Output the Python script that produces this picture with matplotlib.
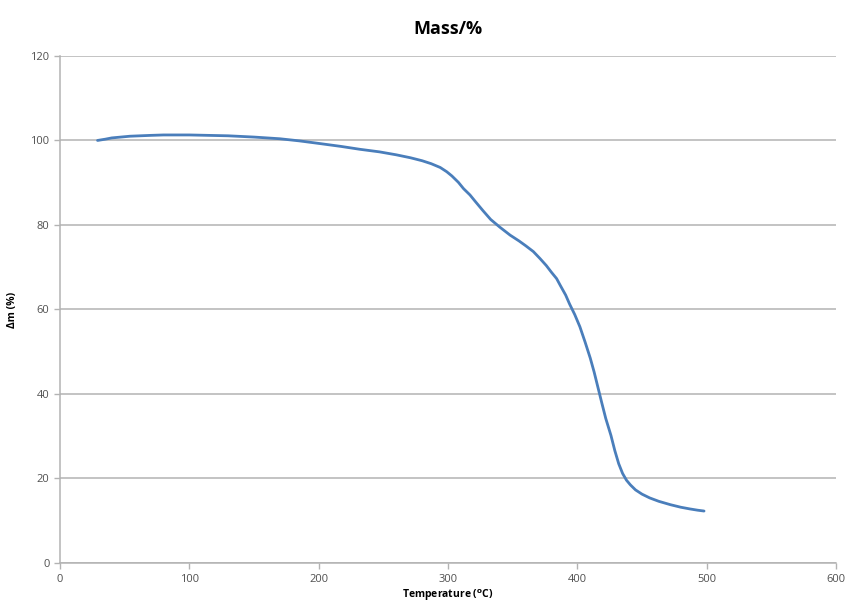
import matplotlib
matplotlib.use('Agg')
import matplotlib.pyplot as plt
import numpy as np

# TGA curve
temp = [29, 35, 40, 47, 54, 62, 70, 80, 90, 100, 115, 130, 150, 170, 185,
        200, 217, 232, 247, 260, 271, 280, 287, 294, 299, 303, 308, 312,
        317, 321, 327, 333, 340, 348, 355, 360, 366, 371, 376, 380, 384,
        387, 391, 394, 398, 402, 406, 410, 413, 416, 419, 422, 426, 429,
        432, 435, 438, 441, 445, 450, 456, 463, 472, 480, 487, 493, 498]
mass = [100.0, 100.3, 100.6, 100.8, 101.0, 101.1, 101.2, 101.3, 101.3,
        101.3, 101.2, 101.1, 100.8, 100.4, 99.9, 99.3, 98.6, 97.9, 97.3,
        96.6, 95.9, 95.2, 94.5, 93.6, 92.6, 91.6, 90.1, 88.6, 87.1, 85.6,
        83.4, 81.3, 79.5, 77.6, 76.2, 75.1, 73.7, 72.1, 70.4, 68.8, 67.3,
        65.6, 63.4, 61.3, 58.8, 55.9, 52.3, 48.5, 45.2, 41.5, 37.8, 34.2,
        30.2, 26.6, 23.5, 21.2, 19.6, 18.5, 17.3, 16.3, 15.4, 14.6, 13.8,
        13.2, 12.8, 12.5, 12.3]

xticks = [0, 100, 200, 300, 400, 500, 600]
yticks = [0, 20, 40, 60, 80, 100, 120]

plt.rcParams['font.family'] = ['Open Sans', 'DejaVu Sans']

fig = plt.figure(figsize=(8.48, 6.08), dpi=100)
ax = fig.add_axes([0.0708, 0.074, 0.915, 0.834])

ax.plot(temp, mass, color='#4a7ebb', linewidth=2.0, solid_capstyle='round',
        solid_joinstyle='round')

ax.set_xlim(0, 600)
ax.set_ylim(0, 120)
ax.set_xticks(xticks)
ax.set_yticks(yticks)
ax.grid(axis='y', color='#b3b3b3', linewidth=1.1)
ax.set_axisbelow(True)

for s in ['top', 'right']:
    ax.spines[s].set_visible(False)
for s in ['left', 'bottom']:
    ax.spines[s].set_color('#b3b3b3')
    ax.spines[s].set_linewidth(1.1)

ax.tick_params(axis='both', colors='#b3b3b3', labelcolor='#505050',
               labelsize=8, length=4, width=1)
ax.tick_params(axis='x', pad=4)

ax.set_title('Mass/%', fontsize=13, fontweight='bold', pad=16)
ax.set_xlabel(r'Temperature ($\mathbf{^o}$C)', fontsize=7.5, fontweight='bold',
              labelpad=2)
ax.set_ylabel('Δm (%)', fontsize=7.5, fontweight='bold', labelpad=9)

fig.savefig('out.png', dpi=100)
